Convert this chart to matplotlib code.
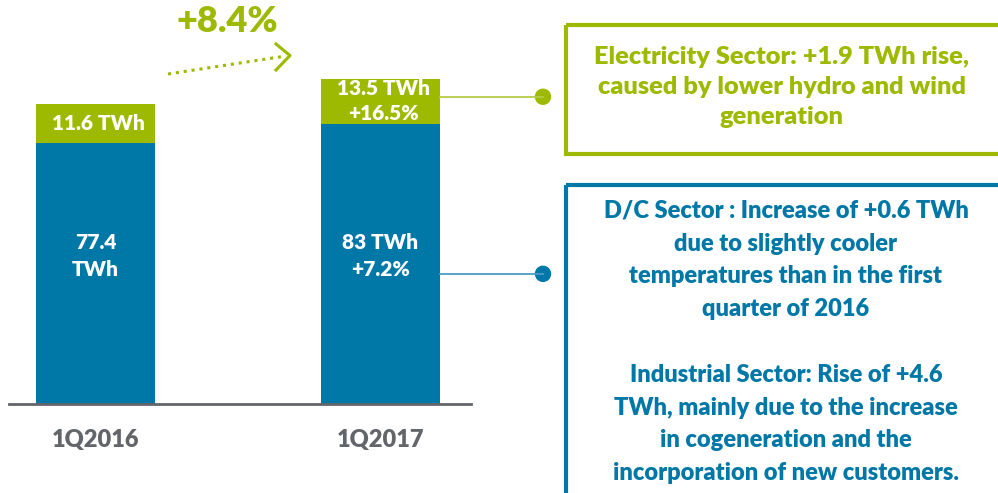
import matplotlib.pyplot as plt
from matplotlib.patches import Rectangle, Circle

plt.rcParams['font.family'] = ['Lato', 'DejaVu Sans']

categories = ['1Q2016', '1Q2017']
dc_industrial = [77.4, 83.0]  # TWh, blue part
electricity = [11.6, 13.5]  # TWh, green part
blue_labels = ['77.4\nTWh', '83 TWh\n+7.2%']
green_labels = ['11.6 TWh', '13.5 TWh\n+16.5%']
total_growth = '+8.4%'
green_note = 'Electricity Sector: +1.9 TWh rise,\ncaused by lower hydro and wind\ngeneration'
blue_note = ('D/C Sector : Increase of +0.6 TWh\ndue to slightly cooler\n'
             'temperatures than in the first\nquarter of 2016\n\n'
             'Industrial Sector: Rise of +4.6\nTWh, mainly due to the increase\n'
             'in cogeneration and the\nincorporation of new customers.')

BLUE = '#0078a7'
GREEN = '#9dba00'
GRAY = '#62656a'
WT = 'heavy'

W, H = 998, 493
fig = plt.figure(figsize=(W / 100, H / 100), dpi=100)

# bar axes, placed in pixels
ax = fig.add_axes([9 / W, 89 / H, 462 / W, 371 / H])
x = [0, 1]
bw = 0.4175
ax.bar(x, dc_industrial, width=bw, color=BLUE, zorder=2)
ax.bar(x, electricity, width=bw, bottom=dc_industrial, color=GREEN, zorder=2)
ax.set_xlim(-0.3035, 1.3175)
ax.set_ylim(0, 110)
for s in ['top', 'right', 'left']:
    ax.spines[s].set_visible(False)
ax.spines['bottom'].set_color(GRAY)
ax.spines['bottom'].set_linewidth(2)
ax.spines['bottom'].set_zorder(3)
ax.set_yticks([])
ax.set_xticks(x)
ax.set_xticklabels(categories, fontsize=17, fontweight=WT, color=GRAY)
ax.tick_params(axis='x', length=0, pad=18)

for i in x:
    ax.text(i, 44, blue_labels[i], ha='center', va='center', color='white',
            fontsize=15, fontweight=WT, linespacing=1.5)
    ax.text(i + 0.01, dc_industrial[i] + electricity[i] / 2, green_labels[i],
            ha='center', va='center', color='white', fontsize=15,
            fontweight=WT, linespacing=1.38)

# overlay in pixel coords for the callouts
ov = fig.add_axes([0, 0, 1, 1])
ov.set_xlim(0, W)
ov.set_ylim(H, 0)
ov.axis('off')
ov.patch.set_alpha(0)

ov.text(227, 21, total_growth, ha='center', va='center', color=GREEN,
        fontsize=26, fontweight=WT)
ov.plot([168, 286], [74, 56], color=GREEN, lw=2.2, ls=(0, (1, 1.6)))
ov.plot([276, 290, 276], [44, 55.5, 70], color=GREEN, lw=2.2)

# connector lines from bar 2 to the notes
def to_px(xv, yv):
    px, py = ax.transData.transform((xv, yv))
    return px, H - py

bx, gy = to_px(1 + bw / 2, dc_industrial[1] + electricity[1] * 0.6)
_, by = to_px(1 + bw / 2, dc_industrial[1] * 0.465)
ov.plot([bx, 543], [gy, gy], color='#b5cc4a', lw=1.3)
ov.plot([bx, 543], [by, by], color='#4a9cc4', lw=1.3)
ov.add_patch(Circle((543, gy), 7.5, color=GREEN))
ov.add_patch(Circle((543, by), 7.5, color=BLUE))

ov.add_patch(Rectangle((566, 25), 460, 129, fill=False, ec=GREEN, lw=3))
ov.add_patch(Rectangle((566, 185), 460, 340, fill=False, ec=BLUE, lw=3))
ov.text(782, 87, green_note, ha='center', va='center', color=GREEN,
        fontsize=18.3, fontweight=WT, linespacing=1.42)
ov.text(786, 342, blue_note, ha='center', va='center', color=BLUE,
        fontsize=17, fontweight=WT, linespacing=1.6)

fig.savefig('out.png', dpi=100)
